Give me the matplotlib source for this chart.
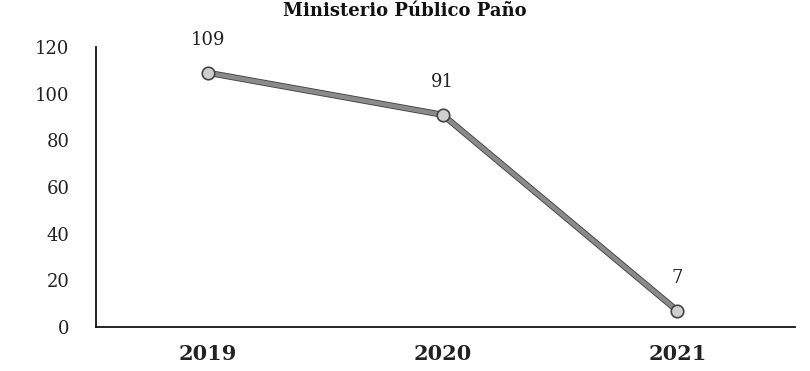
import matplotlib
matplotlib.use("Agg")
import matplotlib.pyplot as plt
import matplotlib.patheffects as pe

years = ["2019", "2020", "2021"]
values = [109, 91, 7]
yticks = [0, 20, 40, 60, 80, 100, 120]
title = "Ministerio Público Paño"

serif = ["DejaVu Serif"]

fig = plt.figure(figsize=(8.10, 3.71), dpi=100)
ax = fig.add_axes([0.1185, 0.1186, 0.981 - 0.1185, 0.873 - 0.1186])

x = list(range(len(years)))
ax.plot(x, values, color="#8a8a8a", lw=3.2, zorder=2,
        path_effects=[pe.withStroke(linewidth=4.5, foreground="#444444")])
ax.plot(x, values, ls="none", marker="o", ms=9, mfc="#cfcfcf", mec="#444444", mew=1.2, zorder=3)

for xi, v in zip(x, values):
    ax.annotate(str(v), (xi, v), xytext=(0, 17), textcoords="offset points",
                ha="center", va="bottom", fontsize=13, family=serif, color="#222222")

ax.set_xlim(-0.477, 2.5)
ax.set_ylim(0, 120)
ax.set_yticks(yticks)
ax.set_xticks(x)
ax.set_xticklabels(years, fontsize=15, fontweight="bold", family=serif)
for lab in ax.get_yticklabels():
    lab.set_family(serif)
    lab.set_fontsize(13)
ax.tick_params(axis="both", length=0, colors="#222222")
ax.tick_params(axis="y", pad=19)
ax.tick_params(axis="x", pad=12)
for s in ["top", "right"]:
    ax.spines[s].set_visible(False)
for s in ["left", "bottom"]:
    ax.spines[s].set_color("#111111")
    ax.spines[s].set_linewidth(1.3)

fig.text(0.5, (371 - 16) / 371, title, ha="center", va="baseline",
         fontsize=13, fontweight="bold", family=serif, color="#111111")

fig.savefig("out.png", dpi=100)
